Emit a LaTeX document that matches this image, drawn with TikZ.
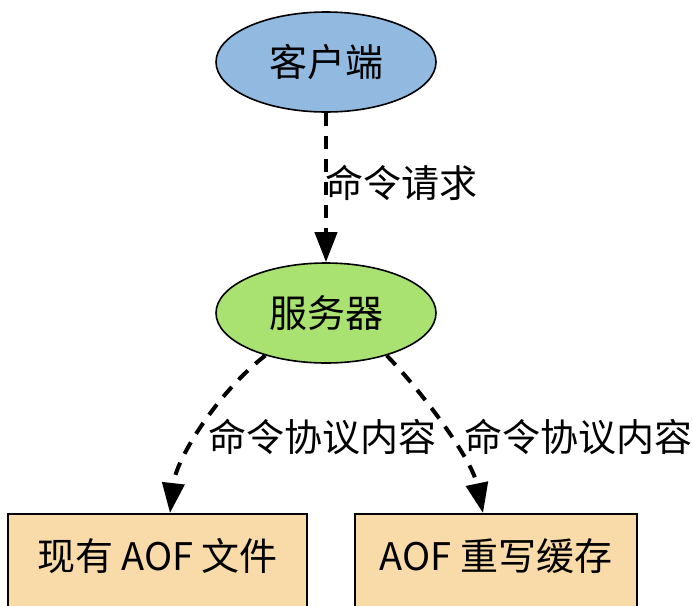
\documentclass[tikz,border=0pt]{standalone}
\usepackage{fontspec}
\setmainfont{Noto Sans CJK SC}
\usepackage{xcolor}
\usetikzlibrary{arrows.meta, shapes.geometric}

\definecolor{clientblue}{HTML}{92B9E0}
\definecolor{servergreen}{HTML}{A9E270}
\definecolor{storetan}{HTML}{F9DBA9}

\begin{document}
\begin{tikzpicture}[
    x=1pt, y=-1pt,
    every node/.style={font=\fontsize{38}{42}\selectfont},
    endpoint/.style={draw, ellipse, line width=1.6pt, minimum width=220pt, minimum height=100pt, inner sep=0pt},
    store/.style={draw, rectangle, line width=1.6pt, anchor=north, inner sep=0pt, text height=57pt, text depth=55pt},
    cmd/.style={anchor=west, inner sep=0pt},
    arrow/.style={-{Triangle[length=30pt, width=22pt]}, line width=4pt, dash pattern=on 13pt off 10pt}
]
\useasboundingbox (0,0) rectangle (693,605);
\clip (0,0) rectangle (693,605);

\node[endpoint, fill=clientblue] (client) at (326,62) {客户端};
\node[endpoint, fill=servergreen] (server) at (326,313) {服务器};
\node[store, fill=storetan, minimum width=299pt] (aoffile) at (157.5,513) {现有 AOF 文件};
\node[store, fill=storetan, minimum width=282pt] (rewritebuf) at (496,513) {AOF 重写缓存};

\node[cmd] (reqlabel) at (325,183) {命令请求};
\node[cmd] (leftlabel) at (208,437) {命令协议内容};
\node[cmd] (rightlabel) at (464,437) {命令协议内容};

\draw[arrow] (client) -- (server);
\draw[arrow] (server.215) .. controls (215,395) and (176,460) .. (aoffile.north -| 170,0);
\draw[arrow] (server.325) .. controls (425,395) and (472,460) .. (rewritebuf.north -| 483,0);
\end{tikzpicture}
\end{document}
